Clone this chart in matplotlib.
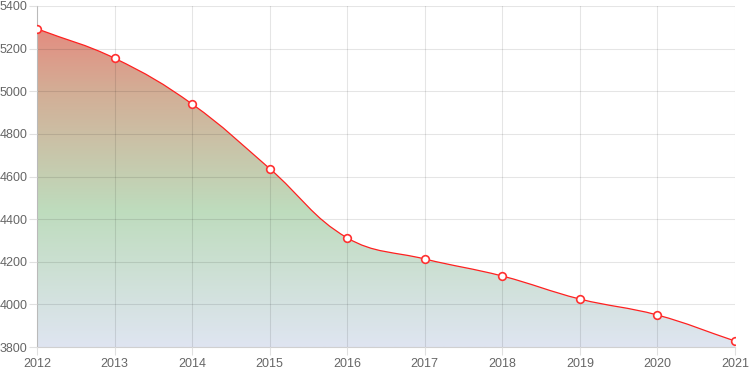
import numpy as np
import matplotlib
matplotlib.use("Agg")
from matplotlib import pyplot as plt
from matplotlib.path import Path
from matplotlib.patches import PathPatch
from matplotlib.colors import LinearSegmentedColormap

years = [2012, 2013, 2014, 2015, 2016, 2017, 2018, 2019, 2020, 2021]
values = [5293, 5155, 4940, 4637, 4312, 4213, 4133, 4025, 3950, 3828]
y_ticks = [3800, 4000, 4200, 4400, 4600, 4800, 5000, 5200, 5400]

plt.rcParams["font.family"] = ["Liberation Sans", "DejaVu Sans"]

fig = plt.figure(figsize=(7.5, 3.75), dpi=100)
ax = fig.add_axes([37 / 750, 28 / 375, 698 / 750, 341 / 375])
ax.set_xlim(years[0], years[-1])
ax.set_ylim(y_ticks[0], y_ticks[-1])


def spline_path(xs, ys, tension=0.4):
    # chart.js style bezier curve, computed in pixel space
    pts = ax.transData.transform(np.column_stack([xs, ys]))
    n = len(pts)
    cp_prev = pts.copy()
    cp_next = pts.copy()
    for i in range(n):
        p0 = pts[max(i - 1, 0)]
        p1 = pts[i]
        p2 = pts[min(i + 1, n - 1)]
        d01 = np.hypot(*(p1 - p0))
        d12 = np.hypot(*(p2 - p1))
        tot = d01 + d12
        if tot == 0:
            continue
        cp_prev[i] = p1 - tension * d01 / tot * (p2 - p0)
        cp_next[i] = p1 + tension * d12 / tot * (p2 - p0)
    inv = ax.transData.inverted()
    cp_prev = inv.transform(cp_prev)
    cp_next = inv.transform(cp_next)
    verts = [(xs[0], ys[0])]
    codes = [Path.MOVETO]
    for i in range(1, n):
        verts += [tuple(cp_next[i - 1]), tuple(cp_prev[i]), (xs[i], ys[i])]
        codes += [Path.CURVE4] * 3
    return verts, codes


verts, codes = spline_path(years, values)

# gradient fill under the curve
fill_verts = verts + [(years[-1], y_ticks[0]), (years[0], y_ticks[0]), verts[0]]
fill_codes = codes + [Path.LINETO, Path.LINETO, Path.CLOSEPOLY]
fill_patch = PathPatch(Path(fill_verts, fill_codes), facecolor="none", edgecolor="none")
ax.add_patch(fill_patch)
cmap = LinearSegmentedColormap.from_list(
    "grad", [(0.0, "#ea8078"), (0.25, "#d3ae96"), (0.6, "#bedcbd"), (1.0, "#dfe5f1")])
grad = np.linspace(0, 1, 256).reshape(-1, 1)
im = ax.imshow(grad, cmap=cmap, aspect="auto", origin="upper",
               extent=[years[0], years[-1], y_ticks[0], y_ticks[-1]], zorder=1,
               vmin=0, vmax=1)
im.set_clip_path(fill_patch)

line = PathPatch(Path(verts, codes), facecolor="none", edgecolor="#ff2020", lw=0.9, zorder=3)
ax.add_patch(line)
ax.plot(years, values, "o", ms=5.5, mfc="white", mec="#ff3030", mew=1.2, zorder=4)

ax.set_xticks(years)
ax.set_yticks(y_ticks)
ax.grid(True, color="black", alpha=0.1, lw=0.8, zorder=2)
ax.set_axisbelow(False)
for s in ax.spines.values():
    s.set_visible(False)
ax.spines["left"].set_visible(True)
ax.spines["bottom"].set_visible(True)
ax.spines["left"].set_color("#d0d0d0")
ax.spines["bottom"].set_color("#d0d0d0")
ax.tick_params(colors="#e0e0e0", labelcolor="#666666", labelsize=9, length=6, width=0.8)
ax.tick_params(axis="x", pad=2)
ax.tick_params(axis="y", pad=1)

fig.savefig("out.png", dpi=100)
